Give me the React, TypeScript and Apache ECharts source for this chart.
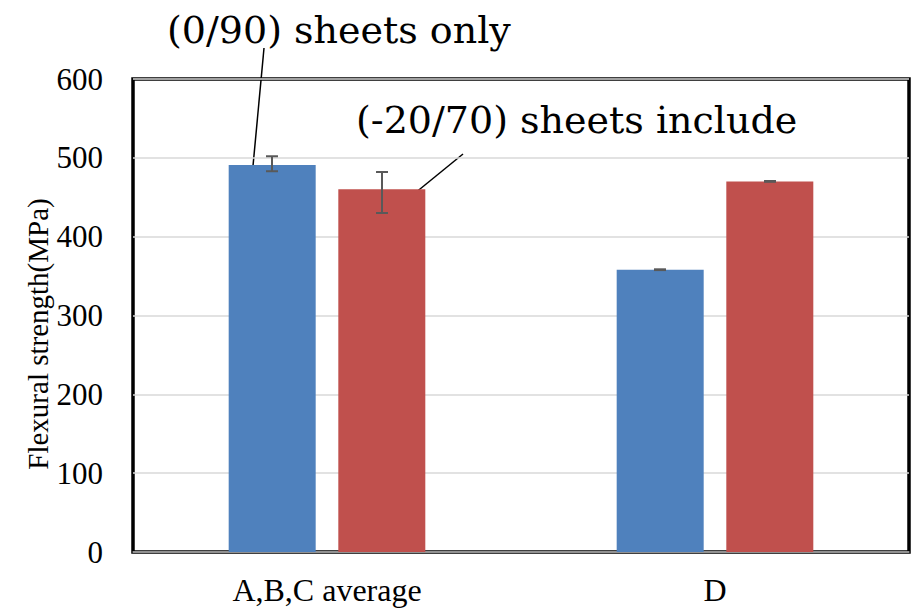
import React, { useEffect, useRef } from "react";
import * as echarts from "echarts";

const categories = ["A,B,C average", "D"];
const seriesNames = ["(0/90) sheets only", "(-20/70) sheets include"];
const blueValues = [491, 358];
const redValues = [460, 470];
const blueLow = [483, 357.6];
const blueHigh = [502, 358.6];
const redLow = [430, 469.6];
const redHigh = [482, 470.6];
const yTicks = { min: 0, max: 600, interval: 100 };
const yTitle = "Flexural strength(MPa)";

const FONT = "Liberation Serif";
const BIG_FONT = "DejaVu Serif";

function errorSeries(name: string, low: number[], high: number[], side: number) {
  return {
    type: "custom",
    name,
    z: 5,
    data: low.map((l, i) => [i, l, high[i]]),
    renderItem: (params: any, api: any) => {
      const idx = api.value(0);
      const band = api.size([1, 0])[0];
      const off = side * band * 0.1418;
      const pLow = api.coord([idx, api.value(1)]);
      const pHigh = api.coord([idx, api.value(2)]);
      const x = pLow[0] + off;
      const cap = 6;
      const style = { stroke: "#595959", lineWidth: 2 };
      return {
        type: "group",
        children: [
          { type: "line", shape: { x1: x, y1: pLow[1], x2: x, y2: pHigh[1] }, style },
          { type: "line", shape: { x1: x - cap, y1: pLow[1], x2: x + cap, y2: pLow[1] }, style },
          { type: "line", shape: { x1: x - cap, y1: pHigh[1], x2: x + cap, y2: pHigh[1] }, style },
        ],
      };
    },
  };
}

export default function App() {
  const ref = useRef<HTMLDivElement>(null);
  useEffect(() => {
    if (!ref.current) return;
    const chart = echarts.init(ref.current, undefined, { renderer: "svg" });
    chart.setOption({
      animation: false,
      backgroundColor: "#ffffff",
      textStyle: { fontFamily: FONT },
      title: [
        {
          text: seriesNames[0],
          left: 167,
          top: 11,
          padding: 0,
          textStyle: { fontFamily: BIG_FONT, fontSize: 38, fontWeight: "normal", color: "#000" },
        },
        {
          text: seriesNames[1],
          left: 356,
          top: 101,
          padding: 0,
          textStyle: { fontFamily: BIG_FONT, fontSize: 38, fontWeight: "normal", color: "#000" },
        },
      ],
      grid: {
        left: 133,
        right: 5,
        top: 79,
        bottom: 61,
        show: true,
        borderColor: "#000000",
        borderWidth: 3.5,
        backgroundColor: "transparent",
      },
      xAxis: {
        type: "category",
        data: categories,
        axisTick: { show: false },
        axisLine: { show: true, lineStyle: { color: "#8c8c8c", width: 1.5 } },
        axisLabel: { fontFamily: FONT, fontSize: 32, color: "#000", margin: 22 },
      },
      yAxis: {
        type: "value",
        min: yTicks.min,
        max: yTicks.max,
        interval: yTicks.interval,
        axisLine: { show: false },
        axisTick: { show: false },
        axisLabel: { fontFamily: FONT, fontSize: 31, color: "#000", margin: 30 },
        splitLine: { show: true, lineStyle: { color: "#d9d9d9", width: 1.5 } },
      },
      series: [
        {
          type: "bar",
          name: seriesNames[0],
          data: blueValues,
          barWidth: 87,
          barGap: "26%",
          itemStyle: { color: "#4f81bd" },
        },
        {
          type: "bar",
          name: seriesNames[1],
          data: redValues,
          barWidth: 87,
          barGap: "26%",
          itemStyle: { color: "#c0504d" },
        },
        errorSeries("err0", blueLow, blueHigh, -1),
        errorSeries("err1", redLow, redHigh, 1),
      ],
      graphic: [
        {
          type: "text",
          x: 38,
          y: 334,
          rotation: Math.PI / 2,
          style: {
            text: yTitle,
            fontFamily: FONT,
            fontSize: 29,
            fill: "#000",
            align: "center",
            verticalAlign: "middle",
          },
        },
        {
          type: "line",
          shape: { x1: 264, y1: 48, x2: 253, y2: 166 },
          style: { stroke: "#000", lineWidth: 1.5 },
        },
        {
          type: "line",
          shape: { x1: 463, y1: 154, x2: 409, y2: 198 },
          style: { stroke: "#000", lineWidth: 1.5 },
        },
      ],
    });
    return () => chart.dispose();
  }, []);
  return <div ref={ref} style={{ width: 914, height: 613, position: "absolute", left: 0, top: 0 }} />;
}
